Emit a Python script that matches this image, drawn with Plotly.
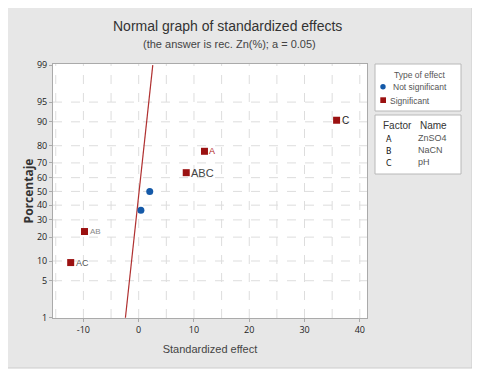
import plotly.graph_objects as go
from statistics import NormalDist

# ---- data ----
sig_labels = ["C", "A", "ABC", "AB", "AC"]
sig_effect = [35.8, 11.9, 8.6, -9.8, -12.3]
sig_pct = [90.5, 77.0, 63.5, 23.0, 9.5]

ns_effect = [2.0, 0.4]
ns_pct = [50.0, 36.5]

line_effect = [-2.4, 2.55]
line_pct = [1, 99]

y_ticks = [1, 5, 10, 20, 30, 40, 50, 60, 70, 80, 90, 95, 99]
x_ticks = [-10, 0, 10, 20, 30, 40]
x_tick_text = ["-10", "0", "10", "20", "30", "40"]
x_grid = [-15, -10, -5, 0, 5, 10, 15, 20, 25, 30, 35, 40]

factors = ["A", "B", "C"]
factor_names = ["ZnSO4", "NaCN", "pH"]
effect_types = ["Not significant", "Significant"]

label_colors = {"C": "#222222", "A": "#b02020", "ABC": "#444444", "AB": "#888888", "AC": "#555555"}
label_sizes = {"C": 10, "A": 9, "ABC": 11, "AB": 8, "AC": 9}

nd = NormalDist()
z = lambda p: nd.inv_cdf(p / 100.0)

RED = "#9b1111"
BLUE = "#1459a8"
PANEL = "#e7e7e7"

# page places the figure 8px from the top-left corner
OFF = 8
W, H = 480 - OFF, 374 - OFF
# target pixel positions (in window coordinates)
PL, PR, PT, PB = 53, 367, 64, 318
L, T = PL - OFF, PT - OFF
R, B = W - (PR - OFF), H - (PB - OFF)
pw, ph = W - L - R, H - T - B
def px(xp): return (xp - OFF - L) / pw
def py(yp): return (PB - yp) / ph

fig = go.Figure()

# fitted line
fig.add_trace(go.Scatter(x=line_effect, y=[z(p) for p in line_pct], mode="lines",
                         line=dict(color="#b03030", width=1.2), showlegend=False, hoverinfo="skip"))

fig.add_trace(go.Scatter(x=ns_effect, y=[z(p) for p in ns_pct], mode="markers",
                         marker=dict(symbol="circle", size=7, color=BLUE),
                         name=effect_types[0], showlegend=False))
fig.add_trace(go.Scatter(x=sig_effect, y=[z(p) for p in sig_pct], mode="markers",
                         marker=dict(symbol="square", size=7, color=RED),
                         name=effect_types[1], showlegend=False))

for lab, xv, pv in zip(sig_labels, sig_effect, sig_pct):
    fig.add_annotation(x=xv, y=z(pv), text=lab, showarrow=False, xanchor="left", xshift=3,
                       font=dict(size=label_sizes[lab], color=label_colors[lab], family="Liberation Sans"))

shapes = []
# white outer frame bands + panel border
shapes += [
    dict(type="rect", xref="paper", yref="paper", x0=px(0), x1=px(5), y0=py(480), y1=py(0),
         fillcolor="white", line=dict(width=0)),
    dict(type="rect", xref="paper", yref="paper", x0=px(472), x1=px(490), y0=py(480), y1=py(0),
         fillcolor="white", line=dict(width=0)),
    dict(type="rect", xref="paper", yref="paper", x0=px(0), x1=px(490), y0=py(7), y1=py(0),
         fillcolor="white", line=dict(width=0)),
    dict(type="rect", xref="paper", yref="paper", x0=px(0), x1=px(490), y0=py(480), y1=py(368),
         fillcolor="white", line=dict(width=0)),
    dict(type="rect", xref="paper", yref="paper", x0=px(5), x1=px(472), y0=py(368), y1=py(7),
         fillcolor="rgba(0,0,0,0)", line=dict(color="#cccccc", width=1)),
]
# dashed grid
for gx in x_grid:
    shapes.append(dict(type="line", xref="x", yref="paper", x0=gx, x1=gx, y0=0, y1=1,
                       line=dict(color="#dddddd", width=1, dash="dash"), layer="below"))
for p in y_ticks[1:-1]:
    shapes.append(dict(type="line", xref="paper", yref="y", x0=0, x1=1, y0=z(p), y1=z(p),
                       line=dict(color="#dddddd", width=1, dash="dash"), layer="below"))

# legend boxes
shapes.append(dict(type="rect", xref="paper", yref="paper", x0=px(375), x1=px(461), y0=py(111), y1=py(64),
                   fillcolor="white", line=dict(color="#b8b8b8", width=1)))
shapes.append(dict(type="rect", xref="paper", yref="paper", x0=px(375), x1=px(461), y0=py(174), y1=py(115),
                   fillcolor="white", line=dict(color="#b8b8b8", width=1)))
# legend symbols
shapes.append(dict(type="circle", xref="paper", yref="paper", x0=px(380.3), x1=px(385.7), y0=py(89.5), y1=py(84.1),
                   fillcolor=BLUE, line=dict(width=0)))
shapes.append(dict(type="rect", xref="paper", yref="paper", x0=px(380.3), x1=px(386), y0=py(103), y1=py(97.3),
                   fillcolor=RED, line=dict(width=0)))
fig.update_layout(shapes=shapes)

# legend text
fig.add_annotation(xref="paper", yref="paper", x=px(420), y=py(75), text="Type of effect", showarrow=False,
                   xanchor="center", yanchor="middle", font=dict(size=8.5, color="#555555", family="Liberation Sans"))
fig.add_annotation(xref="paper", yref="paper", x=px(391), y=py(87), text=effect_types[0], showarrow=False,
                   xanchor="left", yanchor="middle", font=dict(size=8.5, color="#555555", family="Liberation Sans"))
fig.add_annotation(xref="paper", yref="paper", x=px(388), y=py(100.5), text=effect_types[1], showarrow=False,
                   xanchor="left", yanchor="middle", font=dict(size=8.5, color="#555555", family="Liberation Sans"))

# factor table
fig.add_annotation(xref="paper", yref="paper", x=px(381), y=py(125), text="Factor", showarrow=False,
                   xanchor="left", yanchor="middle", font=dict(size=10, color="#333333", family="Liberation Sans"))
fig.add_annotation(xref="paper", yref="paper", x=px(417.5), y=py(125), text="Name", showarrow=False,
                   xanchor="left", yanchor="middle", font=dict(size=10, color="#333333", family="Liberation Sans"))
for i, (f, n) in enumerate(zip(factors, factor_names)):
    yy = 139 + i * 12
    fig.add_annotation(xref="paper", yref="paper", x=px(384), y=py(yy), text=f, showarrow=False,
                       xanchor="left", yanchor="middle", font=dict(size=8, color="#111111", family="DejaVu Sans"))
    fig.add_annotation(xref="paper", yref="paper", x=px(415.5), y=py(yy - 1), text=n, showarrow=False,
                       xanchor="left", yanchor="middle", font=dict(size=9, color="#555555", family="Liberation Sans"))

# titles
fig.add_annotation(xref="paper", yref="paper", x=px(227), y=py(26), text="Normal graph of standardized effects",
                   showarrow=False, xanchor="center", yanchor="middle", font=dict(size=14, color="#333333", family="Liberation Sans"))
fig.add_annotation(xref="paper", yref="paper", x=px(229), y=py(44), text="(the answer is rec. Zn(%); a = 0.05)",
                   showarrow=False, xanchor="center", yanchor="middle", font=dict(size=11, color="#444444", family="Liberation Sans"))

fig.update_layout(
    width=W, height=H,
    margin=dict(l=L, r=R, t=T, b=B, pad=0, autoexpand=False),
    paper_bgcolor=PANEL, plot_bgcolor="white",
    font=dict(family="Open Sans", color="#333333"),
    showlegend=False,
    xaxis=dict(range=[-15.5, 41.3], tickvals=x_ticks, ticktext=x_tick_text, showgrid=False, zeroline=False,
               showline=True, mirror=True, linecolor="#aaaaaa", linewidth=1,
               ticks="outside", ticklen=3, tickcolor="#aaaaaa",
               tickfont=dict(size=9, color="#222222", family="Open Sans"),
               title=dict(text="Standardized effect", font=dict(size=11, color="#444444", family="Liberation Sans"), standoff=10)),
    yaxis=dict(range=[z(1) - 0.005, z(99) + 0.02], tickvals=[z(p) for p in y_ticks], ticktext=[str(p) for p in y_ticks],
               showgrid=False, zeroline=False, showline=True, mirror=True, linecolor="#aaaaaa", linewidth=1,
               ticks="outside", ticklen=3, tickcolor="#aaaaaa",
               tickfont=dict(size=9, color="#222222", family="Open Sans"),
               title=dict(text="<b>Porcentaje</b>", font=dict(size=12, color="#333333", family="Open Sans"), standoff=0)),
)

fig.write_html("out.html")
